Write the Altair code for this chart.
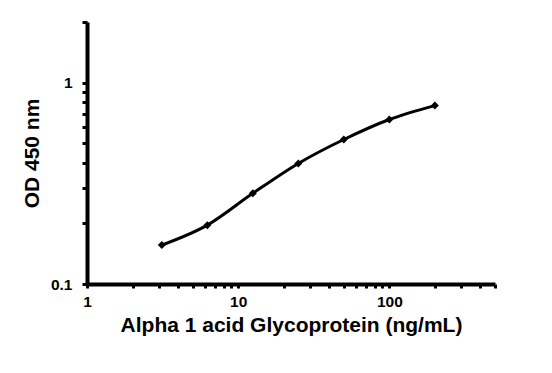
import altair as alt
import pandas as pd

conc = [3.125, 6.25, 12.5, 25, 50, 100, 200]
od = [0.156, 0.196, 0.282, 0.397, 0.522, 0.656, 0.769]

x_ticks = [1, 2, 3, 4, 5, 6, 7, 8, 9, 10, 20, 30, 40, 50, 60, 70, 80, 90, 100, 200, 300, 400, 500]
y_ticks = [0.1, 0.2, 0.3, 0.4, 0.5, 0.6, 0.7, 0.8, 0.9, 1, 2]

df = pd.DataFrame({"conc": conc, "od": od})

FONT = "Liberation Sans"

x = alt.X("conc:Q", scale=alt.Scale(type="log", domain=[1, 500]),
          axis=alt.Axis(title="Alpha 1 acid Glycoprotein (ng/mL)", values=x_ticks,
                        labelExpr="indexof([1,10,100], datum.value) >= 0 ? datum.label : ''",
                        tickSize=4, labelPadding=6, titlePadding=5, format="~g"))
y = alt.Y("od:Q", scale=alt.Scale(type="log", domain=[0.1, 2]),
          axis=alt.Axis(title="OD 450 nm", values=y_ticks,
                        labelExpr="indexof([0.1,1], datum.value) >= 0 ? datum.label : ''",
                        tickSize=5, labelPadding=10, titlePadding=8, format="~g"))

line = alt.Chart(df).mark_line(color="black", strokeWidth=3, interpolate="monotone").encode(x=x, y=y)
pts = alt.Chart(df).mark_point(shape="diamond", filled=True, color="black", size=64, opacity=1).encode(x=x, y=y)

chart = (line + pts).properties(
    width=408, height=262,
    autosize=alt.AutoSizeParams(type="none"),
    padding={"left": 87, "top": 22, "right": 57, "bottom": 89},
    background="white",
).configure_view(stroke=None).configure_axis(
    grid=False, domainWidth=4, domainColor="black", tickColor="black",
    tickWidth=3, labelFont=FONT, labelFontSize=15.5, labelFontWeight="bold",
    labelColor="black", titleFont=FONT, titleFontSize=21,
    titleFontWeight="bold", titleColor="black", labelFlush=False,
)

chart.save("out.html", embed_options={"renderer": "svg", "actions": False})
